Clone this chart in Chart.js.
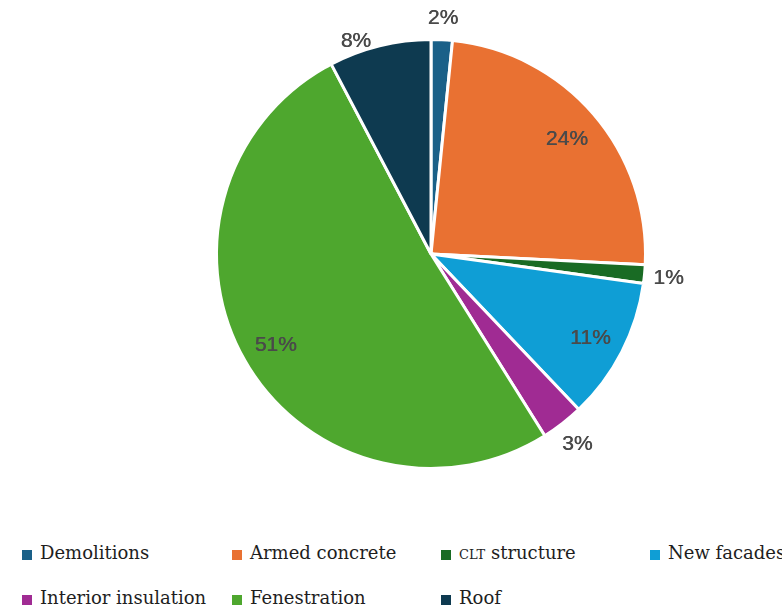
<!DOCTYPE html>
<html>
<head>
<meta charset="utf-8">
<script src="https://cdn.jsdelivr.net/npm/chart.js@4"></script>
<style>
  body { margin: 0; background: #fff; }
  #wrap { position: relative; width: 782px; height: 610px; }
  #chartBox { position: absolute; left: 0; top: 0; width: 782px; height: 510px; }
  #legend {
    position: absolute; left: 22px; top: 540px;
    display: grid;
    grid-template-columns: 210px 209px 209px auto;
    row-gap: 21px;
    font-family: "DejaVu Serif", serif;
    font-size: 18px;
    color: #1e1e1e;
  }
  .item { display: flex; align-items: center; white-space: nowrap; height: 24px; }
  .box { width: 10px; height: 10px; margin-right: 8px; margin-top: 5px; flex: none; }
  .sc { font-variant-caps: all-small-caps; }
</style>
</head>
<body>
<div id="wrap">
  <div id="chartBox"><canvas id="chartPie"></canvas></div>
  <div id="legend"></div>
</div>
<script>
var categories = ['Demolitions', 'Armed concrete', 'CLT structure', 'New facades', 'Interior insulation', 'Fenestration', 'Roof'];
var shares = [1.6, 24.2, 1.4, 10.7, 3.2, 51.2, 7.7];
var colors = ['#1a6088', '#e97132', '#196b24', '#0f9ed5', '#a02b93', '#4ea72e', '#0e3a50'];

// the roof label sits a bit off its slice's middle in the original
var labelNudge = { 'Roof': [-18, 17] };

// percent labels: inside big slices, outside small ones
var pctLabels = {
    id: 'pctLabels',
    afterDatasetsDraw: function(chart) {
        var ctx = chart.ctx;
        var meta = chart.getDatasetMeta(0);
        var total = shares.reduce(function(a, b) { return a + b; }, 0);
        ctx.save();
        ctx.font = '21px "Liberation Sans", Arial, sans-serif';
        ctx.fillStyle = '#4a4a4a';
        ctx.textAlign = 'center';
        ctx.textBaseline = 'middle';
        meta.data.forEach(function(arc, i) {
            var p = arc.getProps(['x', 'y', 'startAngle', 'endAngle', 'outerRadius'], true);
            var mid = (p.startAngle + p.endAngle) / 2;
            var pct = shares[i] / total * 100;
            var d = pct < 9 ? p.outerRadius + 24 : p.outerRadius * 0.835;
            var txt = Math.round(pct) + '%';
            var nudge = labelNudge[categories[i]] || [0, 0];
            var tx = p.x + Math.cos(mid) * d + nudge[0];
            var ty = p.y + Math.sin(mid) * d + nudge[1] + 2;
            // fake a medium weight
            ctx.fillText(txt, tx, ty);
            ctx.fillText(txt, tx + 0.5, ty);
        });
        ctx.restore();
    }
};

var ourPie = document.getElementById('chartPie');

var pieChart = new Chart(ourPie, {
    type: 'pie',
    data: {
        labels: categories,
        datasets: [
            {
                data: shares,
                backgroundColor: colors,
                borderColor: '#ffffff',
                borderWidth: 3
            }
        ]
    },
    options: {
        responsive: true,
        maintainAspectRatio: false,
        animation: false,
        layout: {
            padding: { left: 80, right: 0, top: 38, bottom: 40 }
        },
        plugins: {
            legend: { display: false },
            tooltip: { enabled: false }
        }
    },
    plugins: [pctLabels]
});

// html legend from the chart's own labels
var legendEl = document.getElementById('legend');
pieChart.data.labels.forEach(function(name, i) {
    var item = document.createElement('div');
    item.className = 'item';
    var box = document.createElement('span');
    box.className = 'box';
    box.style.background = colors[i];
    item.appendChild(box);
    var txt = document.createElement('span');
    if (name.indexOf('CLT') === 0) {
        var sc = document.createElement('span');
        sc.className = 'sc';
        sc.textContent = 'CLT';
        txt.appendChild(sc);
        txt.appendChild(document.createTextNode(name.slice(3)));
    } else {
        txt.textContent = name;
    }
    item.appendChild(txt);
    legendEl.appendChild(item);
});
</script>
</body>
</html>
